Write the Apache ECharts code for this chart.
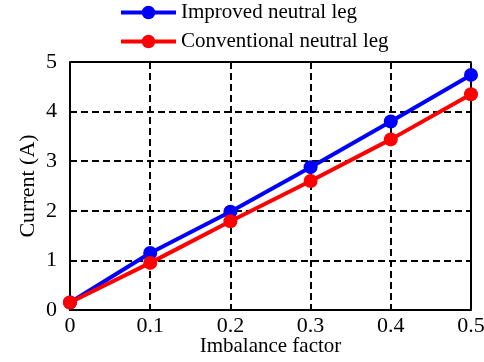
<!DOCTYPE html>
<html>
<head>
<meta charset="utf-8">
<script src="https://cdn.jsdelivr.net/npm/echarts@6/dist/echarts.min.js"></script>
<style>
  html, body { margin: 0; padding: 0; background: #fff; }
  #chart { width: 484px; height: 362px; }
</style>
</head>
<body>
<div id="chart"></div>
<script>
// Imbalance factor on the x axis
const imbalance = [0, 0.1, 0.2, 0.3, 0.4, 0.5];
// Neutral current (A) for each leg design
const improvedLeg = [0.15, 1.15, 1.98, 2.88, 3.80, 4.74];
const conventionalLeg = [0.15, 0.95, 1.79, 2.60, 3.44, 4.35];
const seriesNames = ['Improved neutral leg', 'Conventional neutral leg'];

const font = 'Liberation Serif';
const chart = echarts.init(document.getElementById('chart'));

const pairs = arr => imbalance.map((x, i) => [x, arr[i]]);
const gridDash = { color: '#000', width: 2, type: [7, 4] };

chart.setOption({
  animation: false,
  textStyle: { fontFamily: font },
  legend: {
    orient: 'vertical',
    left: 119,
    top: 2,
    padding: 0,
    itemWidth: 55,
    itemHeight: 17,
    itemGap: 8,
    lineStyle: { width: 4 },
    textStyle: { fontFamily: font, fontSize: 21, color: '#000' },
    data: seriesNames
  },
  grid: { left: 70, right: 13, top: 62, bottom: 52, show: false, outerBoundsMode: 'none', containLabel: false },
  xAxis: {
    type: 'value',
    min: 0, max: 0.5, interval: 0.1,
    name: 'Imbalance factor',
    nameLocation: 'middle',
    nameGap: 26,
    nameMoveOverlap: false,
    nameTextStyle: { fontFamily: font, fontSize: 21, color: '#000' },
    axisLine: { show: true, onZero: false, lineStyle: { color: '#000', width: 2 } },
    axisTick: { show: false },
    axisLabel: { fontFamily: font, fontSize: 22, color: '#000', margin: 5,
      formatter: v => v === 0 ? '0' : String(+v.toFixed(1)) },
    splitLine: { show: true, lineStyle: gridDash }
  },
  yAxis: {
    type: 'value',
    min: 0, max: 5, interval: 1,
    name: 'Current (A)',
    nameLocation: 'middle',
    nameGap: 31,
    nameMoveOverlap: false,
    nameTextStyle: { fontFamily: font, fontSize: 22, color: '#000' },
    axisLine: { show: true, lineStyle: { color: '#000', width: 2 } },
    axisTick: { show: false },
    axisLabel: { fontFamily: font, fontSize: 22, color: '#000', margin: 13 },
    splitLine: { show: true, lineStyle: gridDash }
  },
  series: [
    // frame along the top and right edges of the plot
    {
      type: 'line', silent: true, symbol: 'none', z: 1,
      data: [[0, 5], [0.5, 5], [0.5, 0]],
      lineStyle: { color: '#000', width: 2 },
      legendHoverLink: false
    },
    {
      name: seriesNames[1], type: 'line', data: pairs(conventionalLeg),
      symbol: 'circle', symbolSize: 14, z: 3,
      lineStyle: { color: '#ff0000', width: 4 },
      itemStyle: { color: '#ff0000' }
    },
    {
      name: seriesNames[0], type: 'line', data: pairs(improvedLeg),
      symbol: 'circle', symbolSize: 14, z: 2,
      lineStyle: { color: '#0000ff', width: 4 },
      itemStyle: { color: '#0000ff' }
    }
  ]
});
</script>
</body>
</html>
